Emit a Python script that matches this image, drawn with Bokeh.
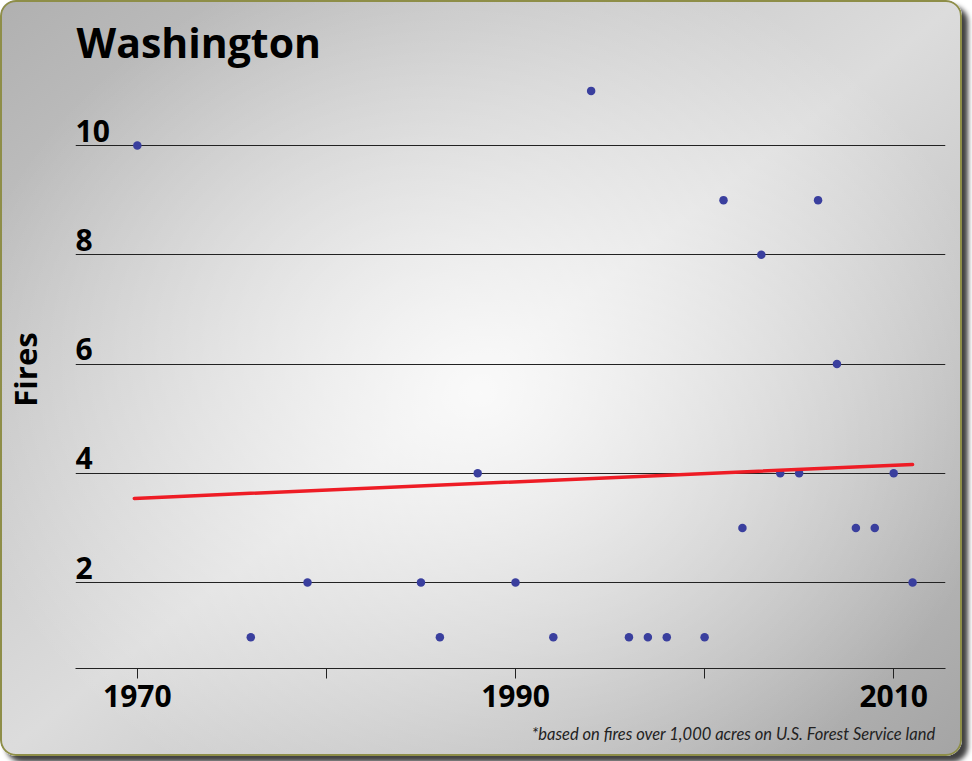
from bokeh.plotting import figure
from bokeh.models import FixedTicker, Range1d, Title, ColumnDataSource
from bokeh.core.properties import value
from bokeh.embed import file_html
from bokeh.resources import INLINE

# ---- data ----
years = [1970, 1976, 1979, 1985, 1986, 1988, 1990, 1992, 1994, 1996, 1997, 1998,
         2000, 2001, 2002, 2003, 2004, 2005, 2006, 2007, 2008, 2009, 2010, 2011]
fires = [10, 1, 2, 2, 1, 4, 2, 1, 11, 1, 1, 1,
         1, 9, 3, 8, 4, 4, 9, 6, 3, 3, 4, 2]
trend_x = [1969.84, 2011.0]
trend_y = [3.54, 4.16]
y_ticks = [2, 4, 6, 8, 10]
y_tick_labels = ["2", "4", "6", "8", "10"]
x_ticks = [1970, 1980, 1990, 2000, 2010]
x_hidden = [1980, 2000]
title_text = "Washington"
y_label = "Fires"
footnote = "*based on fires over 1,000 acres on U.S. Forest Service land"

FONT = "Open Sans"
X0, X1 = 1966.73, 2012.74
Y0, Y1 = 0.426, 11.373

p = figure(width=962, height=756, output_backend="svg", toolbar_location=None,
           x_range=Range1d(X0, X1), y_range=Range1d(Y0, Y1),
           min_border_left=73, min_border_right=17, min_border_top=70, min_border_bottom=88)

p.background_fill_alpha = 0
p.border_fill_alpha = 0
p.outline_line_color = None
p.styles = {
    "background": "radial-gradient(ellipse 55% 60% at 50% 52%, rgba(255,255,255,0.85) 0%, rgba(255,255,255,0) 100%), "
                  "linear-gradient(to bottom right, #b0b0b0 0%, #dcdcdc 50%, #a4a4a4 100%)",
    "border-radius": "16px",
    "box-shadow": "inset 0 0 0 2px #8e8e48, 6px 6px 5px rgba(0,0,0,0.75)",
}

# title
p.title.text = title_text
p.title.text_font = FONT
p.title.text_font_size = "41px"
p.title.text_font_style = "bold"
p.title.text_color = "black"
p.title.align = "left"
p.title.offset = 1
p.title.standoff = 2

# x axis
xa = p.xaxis[0]
xa.ticker = FixedTicker(ticks=x_ticks)
xa.major_label_overrides = {t: "" for t in x_hidden}
xa.minor_tick_line_color = None
xa.major_tick_in = 0
xa.major_tick_out = 10
xa.major_tick_line_color = "#222222"
xa.axis_line_color = "#222222"
xa.major_label_text_font = FONT
xa.major_label_text_font_size = "30px"
xa.major_label_text_font_style = "bold"
xa.major_label_text_color = "black"
xa.major_label_standoff = 6

# y axis: label only
ya = p.yaxis[0]
ya.ticker = FixedTicker(ticks=[])
ya.axis_line_color = None
ya.major_tick_line_color = None
ya.minor_tick_line_color = None
ya.axis_label = y_label
ya.axis_label_text_font = FONT
ya.axis_label_text_font_size = "31px"
ya.axis_label_text_font_style = "bold"
ya.axis_label_text_color = "black"
ya.axis_label_standoff = 30

p.xgrid.visible = False
p.ygrid.ticker = FixedTicker(ticks=y_ticks)
p.ygrid.grid_line_color = "#222222"
p.ygrid.grid_line_width = 1.2

# y tick labels sitting above the grid lines
lab_src = ColumnDataSource(dict(x=[X0] * len(y_ticks), y=y_ticks, t=y_tick_labels))
p.text(x="x", y="y", text="t", source=lab_src, text_align="left", text_baseline="bottom",
       y_offset=-4, text_font=value(FONT), text_font_size="30px", text_font_style="bold",
       text_color="black")

# points
p.scatter(years, fires, size=8.5, color="#3a3f9e", line_color=None)

# trend line
p.line(trend_x, trend_y, line_color="#ee1c25", line_width=3.5, line_cap="round")

# footnote
p.add_layout(Title(text=footnote, align="right", text_font="Lato", text_font_size="16.5px",
                   text_font_style="italic", text_color="#222222", offset=10, standoff=24), "below")

open("out.html", "w").write(file_html(p, INLINE))
